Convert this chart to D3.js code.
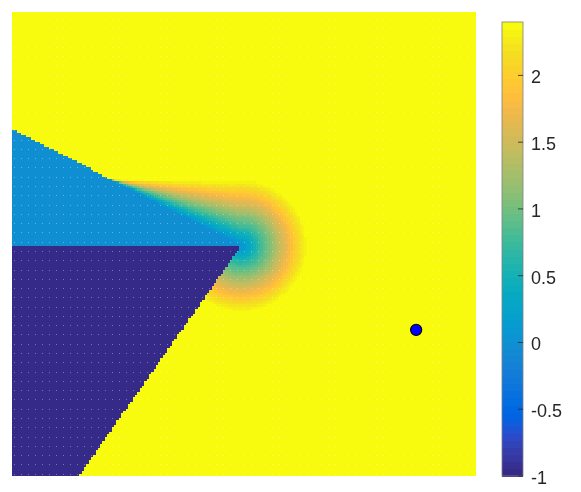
<!DOCTYPE html>
<html><head><meta charset="utf-8">
<script src="https://cdn.jsdelivr.net/npm/d3@7"></script>
<style>
html,body{margin:0;padding:0;background:#fff;overflow:hidden}
#wrap{position:relative;width:581px;height:492px}
canvas,svg{position:absolute;left:0;top:0}
</style></head>
<body><div id="wrap"><canvas id="c" width="581" height="492"></canvas><svg id="s" width="581" height="492"></svg></div>
<script>
// ---- data (plot units 0..100 on both axes, y up) ----
const colorTicks = [-1, -0.5, 0, 0.5, 1, 1.5, 2];
const colorLimits = [-1, 2.4];
const blockedRegion = [[0, 49.6], [49.4, 49.6], [14.4, 0], [0, 0]];   // value -1
const shadowRegion = [[0, 74.8], [49.4, 49.6], [0, 49.6]];            // value 0
const regionValues = [-1, 0];
const openValue = 2.4;
const haloCenter = [49.4, 49.6];
const haloDist  = [0, 2.2, 4.3, 6.5, 8.6, 10.8, 12.9, 14.4];
const haloValue = [0, 0.4, 0.78, 1.12, 1.5, 1.85, 2.2, 2.4];
const bandTop = 63.8;
const goalPoint = [87.1, 31.5];
const gridN = 200;

const parula = [[0.2081,0.1663,0.5292],[0.2116,0.1898,0.5777],[0.2123,0.2138,0.6270],[0.2081,0.2386,0.6771],[0.1959,0.2645,0.7279],[0.1707,0.2919,0.7792],[0.1253,0.3242,0.8303],[0.0591,0.3598,0.8683],[0.0117,0.3875,0.8820],[0.0060,0.4086,0.8828],[0.0165,0.4266,0.8786],[0.0329,0.4430,0.8720],[0.0498,0.4586,0.8641],[0.0629,0.4737,0.8554],[0.0723,0.4887,0.8467],[0.0779,0.5040,0.8384],[0.0793,0.5200,0.8312],[0.0749,0.5375,0.8263],[0.0641,0.5570,0.8240],[0.0488,0.5772,0.8228],[0.0343,0.5966,0.8199],[0.0265,0.6137,0.8135],[0.0239,0.6287,0.8038],[0.0231,0.6418,0.7913],[0.0228,0.6535,0.7768],[0.0267,0.6642,0.7607],[0.0384,0.6743,0.7436],[0.0590,0.6838,0.7254],[0.0843,0.6928,0.7062],[0.1133,0.7015,0.6859],[0.1453,0.7098,0.6646],[0.1801,0.7177,0.6424],[0.2178,0.7250,0.6193],[0.2586,0.7317,0.5954],[0.3022,0.7376,0.5712],[0.3482,0.7424,0.5473],[0.3953,0.7459,0.5244],[0.4420,0.7481,0.5033],[0.4871,0.7491,0.4840],[0.5300,0.7491,0.4661],[0.5709,0.7485,0.4494],[0.6099,0.7473,0.4337],[0.6473,0.7456,0.4188],[0.6834,0.7435,0.4044],[0.7184,0.7411,0.3905],[0.7525,0.7384,0.3768],[0.7858,0.7356,0.3633],[0.8185,0.7327,0.3498],[0.8507,0.7299,0.3360],[0.8824,0.7274,0.3217],[0.9139,0.7258,0.3063],[0.9450,0.7261,0.2886],[0.9739,0.7314,0.2666],[0.9938,0.7455,0.2403],[0.9990,0.7653,0.2164],[0.9955,0.7861,0.1967],[0.9880,0.8066,0.1794],[0.9789,0.8271,0.1633],[0.9697,0.8481,0.1475],[0.9626,0.8705,0.1309],[0.9589,0.8949,0.1132],[0.9598,0.9218,0.0948],[0.9661,0.9514,0.0755],[0.9763,0.9831,0.0538]]
  .map(c => d3.rgb(c[0]*255, c[1]*255, c[2]*255).formatHex());

// ---- scales ----
const x = d3.scaleLinear().domain([0, 100]).range([12, 476]);
const y = d3.scaleLinear().domain([0, 100]).range([476, 12]);
const color = d3.scaleQuantize().domain(colorLimits).range(parula);
const profile = d3.scaleLinear().domain(haloDist).range(haloValue).clamp(true);
const R = haloDist[haloDist.length - 1];

function edgeV(u) {
  const a = shadowRegion[0], b = shadowRegion[1];
  return a[1] + (b[1] - a[1]) * (u - a[0]) / (b[0] - a[0]);
}
function fieldValue(u, v) {
  if (d3.polygonContains(blockedRegion, [u, v])) return regionValues[0];
  if (d3.polygonContains(shadowRegion, [u, v])) return regionValues[1];
  let d = Math.hypot(u - haloCenter[0], v - haloCenter[1]);
  if (u <= haloCenter[0] && v <= bandTop) {
    const yl = edgeV(u);
    if (v >= yl && bandTop > yl) d = Math.min(d, (v - yl) / (bandTop - yl) * R);
  }
  return Math.min(openValue, profile(d));
}

// ---- heat map cells ----
const ctx = document.getElementById('c').getContext('2d');
const step = 100 / gridN;
for (let i = 0; i < gridN; i++) {
  const u0 = i * step, px0 = Math.round(x(u0)), px1 = Math.round(x(u0 + step));
  for (let j = 0; j < gridN; j++) {
    const v0 = j * step, py0 = Math.round(y(v0 + step)), py1 = Math.round(y(v0));
    ctx.fillStyle = color(fieldValue(u0 + step / 2, v0 + step / 2));
    ctx.fillRect(px0, py0, px1 - px0, py1 - py0);
  }
}
// faint marker-gap texture of the scatter grid
ctx.fillStyle = 'rgba(255,255,255,0.35)';
for (let i = 1; i < gridN; i += 3) {
  const px = Math.round(x(i * step));
  for (let j = 1; j < gridN; j += 4) {
    ctx.fillRect(px, Math.round(y(j * step)), 1, 1);
  }
}

// ---- svg overlay ----
const svg = d3.select('#s');
svg.append('circle')
  .attr('cx', x(goalPoint[0])).attr('cy', y(goalPoint[1])).attr('r', 5.6)
  .attr('fill', '#0000ff').attr('stroke', '#000').attr('stroke-width', 1.1);

// colorbar
const cy = d3.scaleLinear().domain(colorLimits).range([476, 22]);
const cbX = 502, cbW = 21;
const nC = parula.length, dv = (colorLimits[1] - colorLimits[0]) / nC;
svg.append('g').attr('shape-rendering', 'crispEdges')
  .selectAll('rect').data(parula).join('rect')
  .attr('x', cbX).attr('width', cbW)
  .attr('y', (d, k) => cy(colorLimits[0] + (k + 1) * dv))
  .attr('height', (d, k) => cy(colorLimits[0] + k * dv) - cy(colorLimits[0] + (k + 1) * dv) + 0.5)
  .attr('fill', d => d);
svg.append('rect').attr('x', cbX).attr('y', cy(colorLimits[1])).attr('width', cbW)
  .attr('height', cy(colorLimits[0]) - cy(colorLimits[1]))
  .attr('fill', 'none').attr('stroke', '#7f7f7f').attr('stroke-width', 0.8);
const tk = svg.append('g');
tk.selectAll('line').data(colorTicks).join('line')
  .attr('x1', cbX + cbW - 5).attr('x2', cbX + cbW)
  .attr('y1', d => cy(d)).attr('y2', d => cy(d))
  .attr('stroke', '#262626').attr('stroke-width', 0.8);
tk.selectAll('text').data(colorTicks).join('text')
  .attr('x', 531).attr('y', d => cy(d) + 8)
  .attr('font-family', 'Liberation Sans, Arial, sans-serif').attr('font-size', 18)
  .attr('fill', '#262626')
  .text(d => d3.format('')(d).replace('−', '-'));
</script></body></html>
